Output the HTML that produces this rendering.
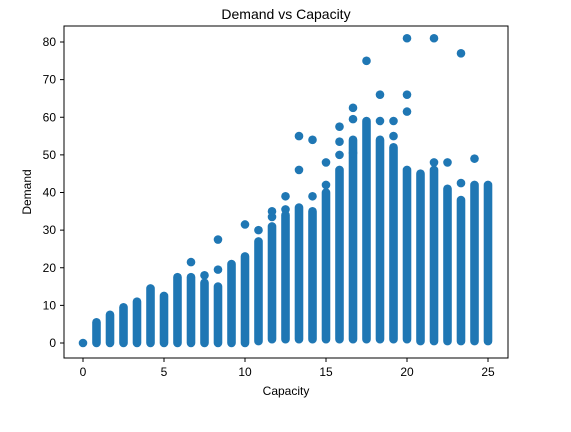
<!DOCTYPE html>
<html><head><meta charset="utf-8"><style>
body{margin:0;background:#fff;}
svg{display:block;font-family:"Liberation Sans","DejaVu Sans",sans-serif;}
</style></head><body>
<svg id="chart" width="571" height="432">
<text x="286" y="19" text-anchor="middle" font-size="14">Demand vs Capacity</text>
<g id="marks"></g>
<rect x="64" y="26" width="444" height="332" fill="none" stroke="#000" stroke-width="1"/>
<g id="axes"></g>
<text x="286" y="395" text-anchor="middle" font-size="12">Capacity</text>
<text transform="translate(31,192) rotate(-90)" text-anchor="middle" font-size="12">Demand</text>
</svg>
<script>
const capacities=[0,0.833,1.667,2.5,3.333,4.167,5,5.833,6.667,7.5,8.333,9.167,10,10.833,11.667,12.5,13.333,14.167,15,15.833,16.667,17.5,18.333,19.167,20,20.833,21.667,22.5,23.333,24.167,25];
const denseMin=[0,0,0,0,0,0,0,0,0,0,0,0,0,0.5,1,1,1,1,1,1,1,1,1,1,1,0.5,0.5,0.5,0.5,0.5,0.5];
const denseMax=[0,5.5,7.5,9.5,11,14.5,12.5,17.5,17.5,16,15,21,23,27,31,34,36,35,40,46,54,59,54,52,46,45,46,41,38,42,42];
const outlierCap=[6.667,7.5,8.333,8.333,10,10.833,11.667,11.667,12.5,12.5,13.333,13.333,14.167,14.167,15,15,15.833,15.833,15.833,16.667,16.667,16.667,17.5,18.333,18.333,19.167,19.167,20,20,20,21.667,21.667,22.5,23.333,23.333,24.167];
const outlierVal=[21.5,18,19.5,27.5,31.5,30,33.5,35,35.5,39,46,55,39,54,42,48,50,53.5,57.5,50.5,59.5,62.5,75,59,66,55,59,61.5,66,81,48,81,48,42.5,77,49];
const xTicks=[0,5,10,15,20,25];
const yTicks=[0,10,20,30,40,50,60,70,80];
const NS='http://www.w3.org/2000/svg';
const sx=v=>83+v*16.2;
const sy=v=>343-v*3.7625;
const R=4.3,C='#1f77b4';
const marks=document.getElementById('marks');
capacities.forEach((c,i)=>{
  const l=document.createElementNS(NS,'line');
  l.setAttribute('x1',sx(c));l.setAttribute('x2',sx(c));
  l.setAttribute('y1',sy(denseMin[i]));l.setAttribute('y2',sy(denseMax[i]));
  l.setAttribute('stroke',C);l.setAttribute('stroke-width',R*2);l.setAttribute('stroke-linecap','round');
  
  
  marks.appendChild(l);
});
outlierCap.forEach((c,i)=>{
  const p=document.createElementNS(NS,'circle');
  p.setAttribute('cx',sx(c));p.setAttribute('cy',sy(outlierVal[i]));p.setAttribute('r',R);p.setAttribute('fill',C);
  
  
  marks.appendChild(p);
});
const axes=document.getElementById('axes');
xTicks.forEach(t=>{
  const x=sx(t);
  const l=document.createElementNS(NS,'line');
  l.setAttribute('x1',x);l.setAttribute('x2',x);l.setAttribute('y1',358);l.setAttribute('y2',362);l.setAttribute('stroke','#000');
  
  
  axes.appendChild(l);
  const tx=document.createElementNS(NS,'text');
  tx.setAttribute('x',x);tx.setAttribute('y',376);tx.setAttribute('text-anchor','middle');tx.setAttribute('font-size','12');
  tx.textContent=t;
  
  
  axes.appendChild(tx);
});
yTicks.forEach(t=>{
  const y=sy(t);
  const l=document.createElementNS(NS,'line');
  l.setAttribute('x1',60);l.setAttribute('x2',64);l.setAttribute('y1',y);l.setAttribute('y2',y);l.setAttribute('stroke','#000');
  
  
  axes.appendChild(l);
  const tx=document.createElementNS(NS,'text');
  tx.setAttribute('x',56);tx.setAttribute('y',y+4);tx.setAttribute('text-anchor','end');tx.setAttribute('font-size','12');
  tx.textContent=t;
  
  
  axes.appendChild(tx);
});
</script>
</body></html>
